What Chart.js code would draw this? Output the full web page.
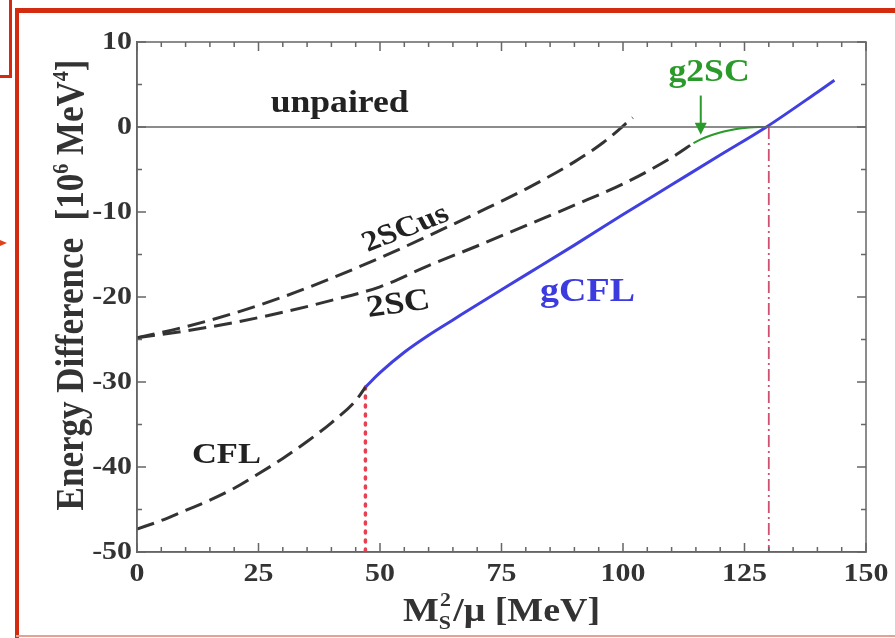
<!DOCTYPE html>
<html>
<head>
<meta charset="utf-8">
<script src="https://cdn.jsdelivr.net/npm/chart.js@4"></script>
<style>
  html, body { margin: 0; padding: 0; background: #fff; }
  #wrap { position: relative; width: 895px; height: 638px; }
</style>
</head>
<body>
<div id="wrap"><canvas id="c" width="895" height="638"></canvas></div>
<script>
// Axis ranges / tick labels
const xTicks = [0, 25, 50, 75, 100, 125, 150];
const yTicks = [-50, -40, -30, -20, -10, 0, 10];

// Energy difference relative to unpaired quark matter, 10^6 MeV^4, vs M_s^2/mu (MeV)
const cflX   = [0, 5, 10, 15, 20, 25, 30, 35, 40, 45, 47];
const cflY   = [-47.3, -46.3, -45.1, -43.9, -42.5, -40.8, -39.0, -37.0, -34.8, -32.2, -30.6];
const gcflX  = [47, 50, 55, 60, 65, 70, 80, 90, 100, 110, 120, 129.5, 140, 143.5];
const gcflY  = [-30.6, -28.9, -26.5, -24.5, -22.7, -20.9, -17.4, -13.9, -10.3, -6.8, -3.3, 0, 4.1, 5.5];
const sc2X   = [0, 10, 20, 30, 40, 50, 60, 70, 80, 90, 100, 110, 114.5];
const sc2Y   = [-24.8, -24.0, -23.0, -21.8, -20.4, -18.8, -16.3, -14.0, -11.6, -9.2, -6.7, -3.6, -1.9];
const sc2usX = [0, 10, 20, 30, 40, 50, 60, 70, 80, 90, 96, 102];
const sc2usY = [-24.8, -23.5, -21.9, -20.0, -17.8, -15.4, -12.8, -10.1, -7.3, -4.1, -1.8, 1.1];
const g2scX  = [114.5, 116, 118, 120, 122, 124, 126, 128, 129.5];
const g2scY  = [-1.9, -1.45, -1.0, -0.65, -0.38, -0.18, -0.06, -0.01, 0];
const unpairedX = [0, 150];
const unpairedY = [0, 0];
// vertical markers: gCFL onset and g2SC end
const gcflOnsetX = [47, 47];
const gcflOnsetY = [-30.6, -50];
const g2scEndX   = [130, 130];
const g2scEndY   = [0, -50];

const pts = (xs, ys) => xs.map((x, i) => ({ x, y: ys[i] }));

const SERIF = '"Liberation Serif", "DejaVu Serif", serif';
const STRETCH = 1.15;   // lettering is a little wider than tall

// in-plot text labels (data coordinates)
const curveLabels = [
  { text: 'unpaired', x: 41.7, y: 2.7,   color: '#222', rot: 0,   size: 31 },
  { text: '2SCus',    x: 55.3, y: -12.0, color: '#222', rot: -24, size: 29 },
  { text: '2SC',      x: 53.8, y: -20.9, color: '#222', rot: -9,  size: 31 },
  { text: 'gCFL',     x: 92.7, y: -19.5, color: '#3b3be0', rot: 0, size: 33 },
  { text: 'CFL',      x: 18.4, y: -38.6, color: '#222', rot: 0,   size: 30 },
  { text: 'g2SC',     x: 117.7, y: 6.4,  color: '#2a9a2a', rot: 0, size: 31 }
];
const arrowFrom = { x: 116, y: 3.7 };
const arrowTo   = { x: 116, y: -0.9 };

function stretchedText(ctx, text, px, py, rotDeg) {
  ctx.save();
  ctx.translate(px, py);
  ctx.scale(STRETCH, 1);
  ctx.rotate(rotDeg * Math.PI / 180);
  ctx.fillText(text, 0, 0);
  ctx.restore();
}

const decor = {
  id: 'decor',
  afterDatasetsDraw(chart) {
    const { ctx, chartArea: a, scales: { x, y } } = chart;
    ctx.save();
    // frame top/right
    ctx.strokeStyle = '#666';
    ctx.lineWidth = 1.5;
    ctx.strokeRect(a.left, a.top, a.right - a.left, a.bottom - a.top);
    // inward ticks on all four sides
    ctx.beginPath();
    for (let v = 0; v <= 150; v += 5) {
      const px = x.getPixelForValue(v);
      const len = v % 25 === 0 ? 9 : 5;
      ctx.moveTo(px, a.bottom); ctx.lineTo(px, a.bottom - len);
      ctx.moveTo(px, a.top);    ctx.lineTo(px, a.top + len);
    }
    for (let v = -50; v <= 10; v += 5) {
      const py = y.getPixelForValue(v);
      const len = v % 10 === 0 ? 9 : 5;
      ctx.moveTo(a.left, py);  ctx.lineTo(a.left + len, py);
      ctx.moveTo(a.right, py); ctx.lineTo(a.right - len, py);
    }
    ctx.stroke();

    // tick labels
    ctx.fillStyle = '#333';
    ctx.font = `bold 26px ${SERIF}`;
    ctx.textAlign = 'center';
    ctx.textBaseline = 'middle';
    xTicks.forEach(v => stretchedText(ctx, String(v), x.getPixelForValue(v), a.bottom + 22, 0));
    ctx.textAlign = 'right';
    yTicks.forEach(v => {
      ctx.save();
      ctx.translate(a.left - 5, y.getPixelForValue(v));
      ctx.scale(STRETCH, 1);
      ctx.fillText(String(v), 0, 0);
      ctx.restore();
    });

    // curve labels
    ctx.textAlign = 'center';
    ctx.textBaseline = 'middle';
    curveLabels.forEach(l => {
      ctx.fillStyle = l.color;
      ctx.font = `bold ${l.size}px ${SERIF}`;
      stretchedText(ctx, l.text, x.getPixelForValue(l.x), y.getPixelForValue(l.y), l.rot);
    });

    // g2SC pointer arrow
    const ax = x.getPixelForValue(arrowFrom.x);
    const ay0 = y.getPixelForValue(arrowFrom.y);
    const ay1 = y.getPixelForValue(arrowTo.y);
    ctx.strokeStyle = '#2a9a2a';
    ctx.fillStyle = '#2a9a2a';
    ctx.lineWidth = 2;
    ctx.beginPath(); ctx.moveTo(ax, ay0); ctx.lineTo(ax, ay1 - 8); ctx.stroke();
    ctx.beginPath();
    ctx.moveTo(ax, ay1); ctx.lineTo(ax - 6, ay1 - 12); ctx.lineTo(ax + 6, ay1 - 12); ctx.closePath();
    ctx.fill();

    // axis titles
    ctx.fillStyle = '#333';
    const big = `bold 35px ${SERIF}`, small = `bold 20px ${SERIF}`;
    // y title with superscripts
    ctx.save();
    ctx.translate(83, 285);
    ctx.scale(STRETCH, 1);
    ctx.rotate(-Math.PI / 2);
    const parts = [
      ['Energy Difference  [10', big, 0], ['6', small, -13], [' MeV', big, 0], ['4', small, -13], [']', big, 0]
    ];
    let w = 0;
    parts.forEach(p => { ctx.font = p[1]; w += ctx.measureText(p[0]).width; });
    let cx = -w / 2;
    ctx.textAlign = 'left';
    ctx.textBaseline = 'alphabetic';
    parts.forEach(p => { ctx.font = p[1]; ctx.fillText(p[0], cx, p[2]); cx += ctx.measureText(p[0]).width; });
    ctx.restore();

    // x title: M_S^2/mu [MeV]
    const xbig = `bold 33px ${SERIF}`, xsmall = `bold 19px ${SERIF}`;
    ctx.save();
    ctx.textAlign = 'left';
    ctx.textBaseline = 'alphabetic';
    ctx.font = xbig;
    const mW = ctx.measureText('M').width;
    ctx.font = xsmall;
    const sW = ctx.measureText('S').width;
    ctx.font = xbig;
    const restW = ctx.measureText('/μ [MeV]').width;
    const total = (mW + sW + 2 + restW) * STRETCH;
    ctx.translate((a.left + a.right) / 2 - total / 2, 621);
    ctx.scale(STRETCH, 1);
    let tx = 0;
    ctx.fillText('M', tx, 0); tx += mW;
    ctx.font = xsmall;
    ctx.fillText('S', tx, 8);
    ctx.fillText('2', tx + 1, -15);
    tx += sW + 2;
    ctx.font = xbig;
    ctx.fillText('/μ [MeV]', tx, 0);
    ctx.restore();
    ctx.restore();
  },
  afterDraw(chart) {
    // page frame lines
    const ctx = chart.ctx;
    ctx.save();
    ctx.fillStyle = '#d42a10';
    ctx.fillRect(16, 8, 879, 5);    // top
    ctx.fillRect(15, 8, 4, 630);    // left
    ctx.fillRect(9, 0, 3, 78);      // small frame, vertical
    ctx.fillRect(0, 75, 12, 3);     // small frame, horizontal
    ctx.fillStyle = '#e8a090';
    ctx.fillRect(16, 635, 879, 2);  // bottom
    ctx.fillStyle = '#e0401c';
    ctx.beginPath(); ctx.moveTo(0, 240); ctx.lineTo(7, 243); ctx.lineTo(0, 246); ctx.closePath(); ctx.fill();
    ctx.restore();
  }
};

const dashed = { borderColor: '#333', borderWidth: 3, borderDash: [18, 8], pointRadius: 0, fill: false, cubicInterpolationMode: 'monotone' };

new Chart(document.getElementById('c'), {
  type: 'line',
  data: {
    datasets: [
      { label: 'unpaired', data: pts(unpairedX, unpairedY), borderColor: '#666', borderWidth: 1.5, pointRadius: 0 },
      { label: 'CFL', data: pts(cflX, cflY), ...dashed },
      { label: '2SC', data: pts(sc2X, sc2Y), ...dashed },
      { label: '2SCus', data: pts(sc2usX, sc2usY), ...dashed },
      { label: 'gCFL', data: pts(gcflX, gcflY), borderColor: '#4040e0', borderWidth: 3, pointRadius: 0, cubicInterpolationMode: 'monotone' },
      { label: 'g2SC', data: pts(g2scX, g2scY), borderColor: '#2a9a2a', borderWidth: 2, pointRadius: 0, cubicInterpolationMode: 'monotone' },
      { label: 'gCFL onset', data: pts(gcflOnsetX, gcflOnsetY), borderColor: '#e84050', borderWidth: 3.5, borderDash: [2, 7], borderCapStyle: 'round', pointRadius: 0 },
      { label: 'g2SC end', data: pts(g2scEndX, g2scEndY), borderColor: '#d05070', borderWidth: 1.8, borderDash: [12, 4, 2, 4], pointRadius: 0 }
    ]
  },
  options: {
    responsive: false,
    animation: false,
    layout: { padding: { left: 0, top: 42, right: 29, bottom: 0 } },
    plugins: { legend: { display: false }, tooltip: { enabled: false } },
    scales: {
      x: {
        type: 'linear', min: 0, max: 150,
        afterBuildTicks: s => { s.ticks = xTicks.map(v => ({ value: v })); },
        afterFit: s => { s.height = 86; },
        grid: { display: false, drawTicks: false },
        border: { display: true, color: '#666', width: 1.5 },
        ticks: { display: false }
      },
      y: {
        type: 'linear', min: -50, max: 10,
        afterBuildTicks: s => { s.ticks = yTicks.map(v => ({ value: v })); },
        afterFit: s => { s.width = 137; },
        grid: { display: false, drawTicks: false },
        border: { display: true, color: '#666', width: 1.5 },
        ticks: { display: false }
      }
    }
  },
  plugins: [decor]
});
</script>
</body>
</html>
